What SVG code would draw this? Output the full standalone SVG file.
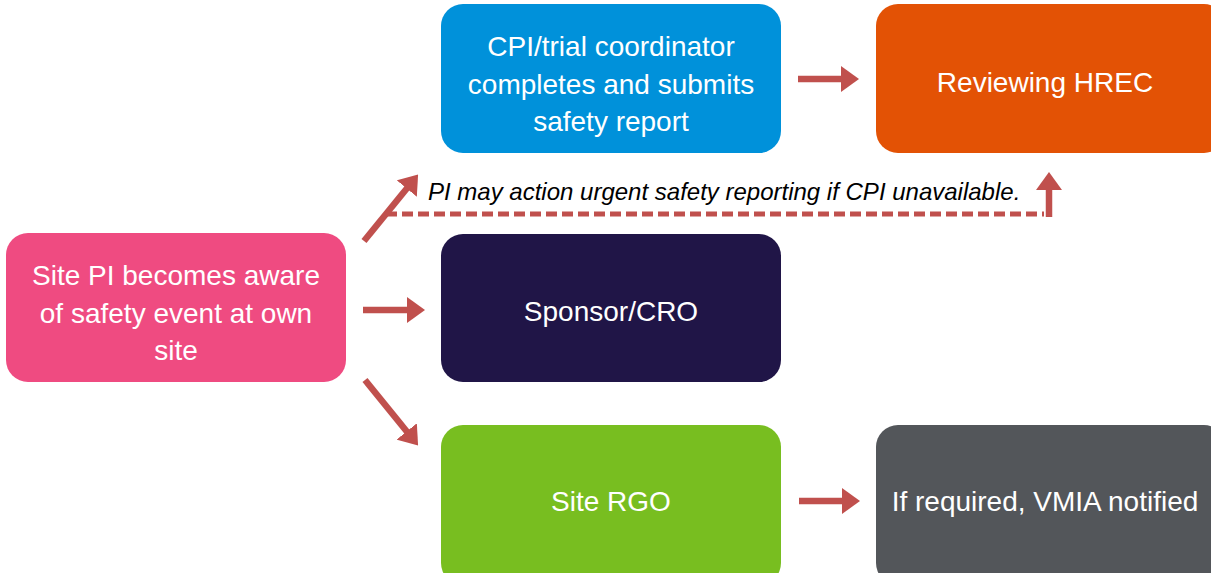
<svg xmlns="http://www.w3.org/2000/svg" width="1211" height="573" viewBox="0 0 1211 573">
<style>
.box{stroke:none}
.t{font-family:"Liberation Sans",Arial,sans-serif;font-size:28px;fill:#ffffff;text-anchor:middle}
.note{font-family:"Liberation Sans",Arial,sans-serif;font-size:24px;font-style:italic;fill:#000000}
.arr{stroke:#C0504D;stroke-width:6.5;fill:none}
.dash{stroke:#C0504D;stroke-width:5;fill:none;stroke-dasharray:11 5}
</style>
<defs>
<marker id="ah" viewBox="0 0 18 26" refX="2" refY="13" markerWidth="18" markerHeight="26" markerUnits="userSpaceOnUse" orient="auto">
<path d="M0,0 L18,13 L0,26 z" fill="#C0504D"/>
</marker>
</defs>
<rect width="1211" height="573" fill="#ffffff"/>
<g id="site-pi">
<rect class="box" x="6" y="233" width="340" height="149" rx="22" fill="#EF4B81"/>
<text class="t" x="176" y="285">Site PI becomes aware</text>
<text class="t" x="176" y="323">of safety event at own</text>
<text class="t" x="176" y="360">site</text>
</g>
<g id="cpi">
<rect class="box" x="441" y="4" width="340" height="149" rx="22" fill="#0091DA"/>
<text class="t" x="611" y="56">CPI/trial coordinator</text>
<text class="t" x="611" y="94">completes and submits</text>
<text class="t" x="611" y="131">safety report</text>
</g>
<g id="hrec">
<rect class="box" x="876" y="4" width="350" height="149" rx="22" fill="#E35205"/>
<text class="t" x="1045" y="92">Reviewing HREC</text>
</g>
<g id="sponsor">
<rect class="box" x="441" y="234" width="340" height="148" rx="22" fill="#201547"/>
<text class="t" x="611" y="321">Sponsor/CRO</text>
</g>
<g id="rgo">
<rect class="box" x="441" y="425" width="340" height="160" rx="22" fill="#78BE20"/>
<text class="t" x="611" y="511">Site RGO</text>
</g>
<g id="vmia">
<rect class="box" x="876" y="425" width="350" height="160" rx="22" fill="#53565A"/>
<text class="t" x="1045" y="511">If required, VMIA notified</text>
</g>
<g id="connectors">
<line class="arr" x1="798" y1="79" x2="843" y2="79" marker-end="url(#ah)"/>
<line class="arr" x1="363" y1="310" x2="409" y2="310" marker-end="url(#ah)"/>
<line class="arr" x1="799" y1="501" x2="844" y2="501" marker-end="url(#ah)"/>
<line class="arr" x1="365" y1="380" x2="408" y2="433" marker-end="url(#ah)"/>
<line class="arr" x1="364" y1="241" x2="408" y2="187" marker-end="url(#ah)"/>
<path class="dash" d="M386,214 H1044"/>
<line class="arr" x1="1049" y1="217" x2="1049" y2="188" marker-end="url(#ah)"/>
<text class="note" x="428" y="200">PI may action urgent safety reporting if CPI unavailable.</text>
</g>
</svg>
